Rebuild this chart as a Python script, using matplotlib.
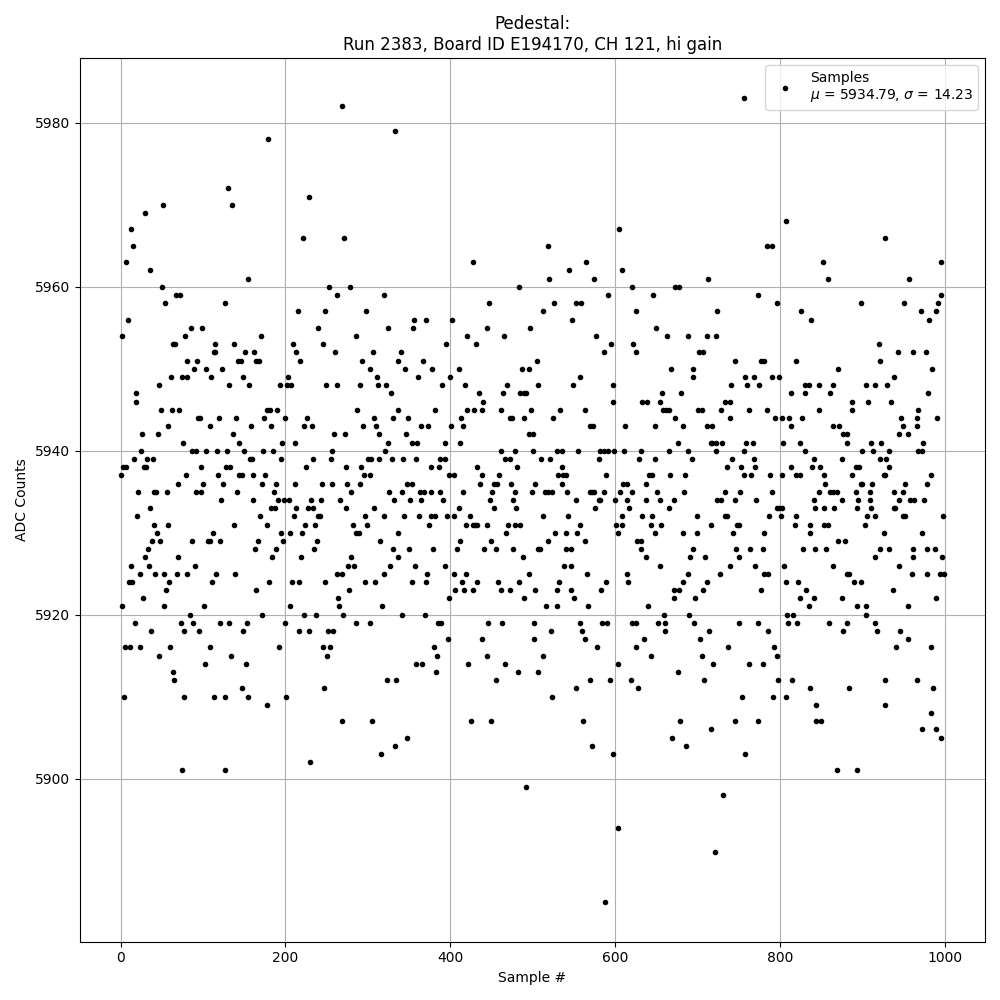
"""Pedestal scan: ADC counts for each sample of one channel."""

import matplotlib
matplotlib.use("Agg")
import matplotlib.pyplot as plt

run_number = 2383
board_id = "E194170"
channel = 121
gain = "hi"
mean_adc = 5934.79
sigma_adc = 14.23

# (sample #, ADC counts), in blocks of ~85 samples
block_a = [(51, 5970), (30, 5969), (13, 5967), (15, 5965), (6, 5963), (36, 5962), (50, 5960),
           (67, 5959), (72, 5959), (54, 5958), (9, 5956), (2, 5954), (78, 5954), (63, 5953),
           (66, 5953), (81, 5951), (47, 5948), (61, 5949), (74, 5949), (81, 5949), (19, 5947),
           (18, 5946), (49, 5945), (62, 5945), (71, 5945), (57, 5943), (26, 5942), (45, 5942),
           (76, 5941), (25, 5940), (16, 5939), (32, 5939), (39, 5939), (3, 5938), (7, 5938),
           (28, 5938), (31, 5938), (0, 5937), (79, 5937), (69, 5936), (21, 5935), (41, 5935),
           (43, 5935), (56, 5935), (35, 5933), (20, 5932), (40, 5931), (58, 5931), (44, 5930),
           (38, 5929), (48, 5929), (33, 5928), (29, 5927), (70, 5927), (12, 5926), (34, 5926),
           (23, 5925), (42, 5925), (53, 5925), (68, 5925), (80, 5925), (10, 5924), (14, 5924),
           (59, 5924), (55, 5923), (27, 5922), (1, 5921), (52, 5921), (17, 5919), (73, 5919),
           (37, 5918), (77, 5918), (5, 5916), (11, 5916), (24, 5916), (60, 5916), (46, 5915),
           (64, 5913), (65, 5912), (4, 5910), (77, 5910), (75, 5901)]
block_b = [(130, 5972), (135, 5970), (155, 5961), (126, 5958), (85, 5955), (99, 5955), (114, 5953),
           (138, 5953), (113, 5952), (115, 5952), (151, 5952), (162, 5952), (93, 5951), (142, 5951),
           (146, 5951), (164, 5951), (89, 5950), (104, 5950), (123, 5950), (110, 5949), (149, 5949),
           (132, 5948), (156, 5948), (94, 5944), (96, 5944), (119, 5944), (140, 5944), (136, 5942),
           (108, 5943), (158, 5943), (144, 5941), (87, 5940), (92, 5940), (104, 5940), (117, 5940),
           (129, 5940), (150, 5940), (157, 5939), (159, 5939), (118, 5937), (144, 5937), (147, 5937),
           (161, 5937), (98, 5938), (128, 5938), (133, 5938), (100, 5936), (124, 5936), (92, 5935),
           (98, 5935), (141, 5935), (122, 5934), (161, 5934), (138, 5931), (112, 5930), (87, 5929),
           (106, 5929), (109, 5929), (121, 5929), (167, 5929), (163, 5928), (90, 5926), (116, 5925),
           (139, 5925), (111, 5924), (164, 5923), (101, 5921), (84, 5920), (88, 5919), (121, 5919),
           (132, 5919), (153, 5919), (95, 5918), (149, 5918), (108, 5916), (134, 5915), (102, 5914),
           (152, 5914), (147, 5911), (113, 5910), (127, 5910), (155, 5910), (126, 5901)]
block_c = [(179, 5978), (229, 5971), (221, 5966), (215, 5957), (248, 5957), (170, 5954), (240, 5955),
           (209, 5953), (246, 5953), (213, 5952), (168, 5951), (218, 5951), (203, 5949), (193, 5948),
           (202, 5948), (207, 5948), (249, 5948), (177, 5945), (181, 5945), (190, 5945), (174, 5944),
           (199, 5944), (226, 5944), (183, 5943), (223, 5943), (232, 5943), (196, 5941), (212, 5941),
           (173, 5940), (185, 5940), (195, 5939), (234, 5939), (225, 5938), (175, 5937), (172, 5936),
           (189, 5936), (212, 5936), (244, 5936), (186, 5935), (191, 5934), (198, 5934), (204, 5934),
           (231, 5934), (243, 5934), (183, 5933), (187, 5933), (213, 5933), (227, 5933), (234, 5933),
           (169, 5932), (210, 5932), (240, 5932), (242, 5932), (178, 5931), (224, 5931), (236, 5931),
           (195, 5930), (206, 5930), (220, 5930), (197, 5929), (238, 5929), (189, 5928), (235, 5928),
           (184, 5927), (219, 5927), (180, 5924), (208, 5924), (217, 5924), (248, 5924), (206, 5921),
           (172, 5920), (223, 5920), (237, 5920), (200, 5919), (217, 5918), (229, 5918), (251, 5918),
           (192, 5916), (246, 5916), (250, 5915), (247, 5911), (201, 5910), (178, 5909), (230, 5902)]
block_d = [(269, 5982), (333, 5979), (271, 5966), (253, 5960), (278, 5960), (263, 5959), (320, 5959),
           (298, 5957), (325, 5955), (285, 5954), (260, 5952), (306, 5952), (293, 5951), (337, 5951),
           (303, 5950), (311, 5949), (263, 5948), (291, 5948), (312, 5948), (322, 5948), (328, 5947),
           (287, 5945), (336, 5945), (308, 5944), (331, 5944), (294, 5943), (310, 5943), (259, 5942),
           (272, 5942), (314, 5942), (325, 5941), (257, 5940), (321, 5940), (255, 5939), (300, 5939),
           (304, 5939), (314, 5939), (329, 5939), (274, 5938), (292, 5938), (295, 5937), (303, 5937),
           (257, 5936), (275, 5936), (291, 5936), (280, 5935), (326, 5935), (266, 5934), (332, 5934),
           (274, 5933), (308, 5933), (297, 5932), (319, 5932), (282, 5931), (299, 5931), (286, 5930),
           (289, 5930), (337, 5930), (315, 5929), (331, 5928), (280, 5927), (336, 5927), (276, 5926),
           (283, 5926), (327, 5926), (297, 5924), (309, 5924), (262, 5925), (269, 5925), (320, 5925),
           (277, 5923), (264, 5922), (265, 5921), (317, 5921), (270, 5920), (286, 5919), (302, 5919),
           (258, 5918), (254, 5916), (323, 5912), (334, 5912), (268, 5907), (305, 5907), (333, 5904),
           (316, 5903)]
block_e = [(356, 5956), (371, 5956), (402, 5956), (355, 5955), (395, 5953), (340, 5952), (420, 5954),
           (367, 5951), (345, 5950), (378, 5950), (410, 5950), (361, 5949), (400, 5949), (390, 5948),
           (418, 5948), (382, 5945), (420, 5945), (349, 5944), (413, 5944), (365, 5943), (373, 5943),
           (401, 5943), (416, 5943), (346, 5942), (354, 5941), (360, 5941), (394, 5941), (412, 5941),
           (343, 5939), (359, 5939), (388, 5939), (394, 5939), (377, 5938), (386, 5938), (399, 5937),
           (405, 5937), (348, 5936), (353, 5936), (342, 5935), (363, 5935), (368, 5935), (377, 5935),
           (388, 5935), (416, 5935), (351, 5934), (365, 5934), (391, 5934), (411, 5933), (344, 5932),
           (362, 5932), (376, 5932), (382, 5932), (396, 5932), (405, 5932), (374, 5931), (419, 5931),
           (412, 5929), (350, 5928), (379, 5928), (408, 5928), (357, 5926), (393, 5926), (372, 5925),
           (404, 5925), (419, 5925), (354, 5924), (371, 5924), (414, 5924), (406, 5923), (417, 5923),
           (399, 5922), (342, 5920), (369, 5920), (385, 5919), (389, 5919), (397, 5917), (380, 5916),
           (384, 5915), (359, 5914), (366, 5914), (422, 5914), (383, 5913), (348, 5905)]
block_f = [(428, 5963), (484, 5960), (447, 5958), (445, 5955), (497, 5955), (465, 5954), (431, 5953),
           (487, 5950), (495, 5950), (505, 5951), (469, 5948), (507, 5948), (435, 5947), (464, 5947),
           (485, 5947), (490, 5947), (492, 5947), (440, 5946), (429, 5945), (439, 5945), (462, 5945),
           (498, 5945), (472, 5944), (475, 5944), (490, 5944), (496, 5942), (501, 5942), (461, 5940),
           (478, 5940), (501, 5940), (467, 5939), (473, 5939), (433, 5938), (481, 5938), (439, 5937),
           (459, 5937), (436, 5936), (453, 5936), (457, 5936), (474, 5936), (503, 5936), (451, 5935),
           (479, 5935), (499, 5935), (448, 5934), (476, 5934), (453, 5933), (480, 5933), (424, 5932),
           (428, 5931), (430, 5931), (433, 5931), (445, 5931), (470, 5931), (479, 5931), (485, 5931),
           (468, 5930), (450, 5929), (441, 5928), (456, 5928), (476, 5928), (507, 5928), (488, 5927),
           (496, 5925), (433, 5924), (458, 5924), (484, 5924), (427, 5923), (462, 5923), (473, 5923),
           (503, 5923), (490, 5922), (446, 5919), (463, 5919), (502, 5919), (438, 5917), (444, 5915),
           (467, 5914), (482, 5913), (506, 5913), (456, 5912), (425, 5907), (450, 5907), (492, 5899)]
block_g = [(518, 5965), (565, 5963), (544, 5962), (520, 5961), (575, 5961), (592, 5959), (526, 5958),
           (552, 5958), (559, 5958), (513, 5957), (548, 5956), (577, 5954), (587, 5952), (558, 5949),
           (549, 5948), (533, 5945), (563, 5945), (525, 5944), (570, 5943), (573, 5943), (529, 5940),
           (536, 5940), (555, 5940), (582, 5940), (586, 5940), (510, 5939), (521, 5939), (581, 5939),
           (536, 5938), (531, 5937), (537, 5937), (540, 5937), (589, 5937), (535, 5936), (515, 5935),
           (518, 5935), (524, 5935), (542, 5935), (570, 5935), (572, 5935), (575, 5935), (587, 5935),
           (553, 5934), (580, 5934), (582, 5934), (576, 5933), (512, 5932), (543, 5932), (558, 5931),
           (527, 5930), (541, 5930), (554, 5930), (519, 5929), (564, 5929), (509, 5928), (541, 5928),
           (547, 5928), (538, 5926), (547, 5926), (566, 5925), (532, 5924), (589, 5924), (530, 5923),
           (546, 5923), (583, 5923), (550, 5922), (516, 5921), (530, 5921), (567, 5921), (557, 5919),
           (584, 5919), (590, 5919), (522, 5918), (560, 5918), (502, 5917), (564, 5917), (578, 5916),
           (513, 5915), (569, 5912), (524, 5910), (552, 5911), (561, 5907), (572, 5904), (588, 5885)]
block_h = [(605, 5967), (609, 5962), (621, 5960), (673, 5960), (646, 5959), (626, 5957), (650, 5955),
           (663, 5954), (595, 5953), (622, 5953), (626, 5952), (668, 5950), (598, 5948), (598, 5946),
           (633, 5946), (639, 5946), (654, 5946), (657, 5947), (658, 5945), (662, 5945), (666, 5945),
           (673, 5944), (612, 5943), (648, 5943), (676, 5941), (592, 5940), (599, 5940), (611, 5940),
           (632, 5940), (665, 5940), (629, 5939), (649, 5939), (641, 5937), (645, 5937), (667, 5937),
           (610, 5936), (615, 5936), (637, 5936), (606, 5935), (621, 5935), (651, 5935), (600, 5934),
           (614, 5934), (638, 5934), (655, 5934), (672, 5934), (617, 5933), (666, 5933), (609, 5932),
           (633, 5932), (645, 5932), (601, 5931), (608, 5931), (644, 5931), (656, 5931), (604, 5930),
           (649, 5930), (627, 5929), (632, 5929), (631, 5928), (638, 5927), (655, 5926), (615, 5925),
           (616, 5924), (671, 5923), (677, 5923), (672, 5922), (640, 5921), (659, 5920), (620, 5919),
           (625, 5919), (652, 5919), (661, 5919), (660, 5918), (635, 5917), (625, 5916), (643, 5915),
           (603, 5914), (676, 5913), (594, 5912), (619, 5912), (628, 5911), (669, 5905), (597, 5903),
           (604, 5894)]
block_i = [(757, 5983), (713, 5961), (678, 5960), (724, 5957), (689, 5954), (712, 5954), (723, 5954),
           (702, 5952), (707, 5952), (746, 5951), (694, 5950), (695, 5949), (758, 5949), (680, 5947),
           (741, 5948), (760, 5948), (733, 5946), (739, 5946), (701, 5945), (706, 5945), (729, 5945),
           (740, 5944), (683, 5943), (711, 5943), (718, 5943), (716, 5941), (718, 5941), (722, 5941),
           (730, 5941), (759, 5941), (689, 5940), (723, 5940), (756, 5940), (693, 5939), (742, 5939),
           (736, 5938), (753, 5938), (685, 5937), (757, 5937), (684, 5935), (734, 5935), (752, 5935),
           (724, 5934), (728, 5934), (746, 5934), (699, 5932), (733, 5932), (736, 5932), (717, 5931),
           (748, 5931), (751, 5931), (682, 5930), (700, 5930), (743, 5930), (695, 5928), (747, 5928),
           (691, 5927), (709, 5927), (751, 5927), (740, 5926), (688, 5925), (727, 5925), (683, 5924),
           (712, 5924), (707, 5923), (697, 5922), (690, 5920), (696, 5919), (751, 5919), (714, 5918),
           (703, 5917), (737, 5916), (705, 5915), (719, 5914), (762, 5914), (708, 5912), (754, 5910),
           (679, 5907), (745, 5907), (716, 5906), (686, 5904), (758, 5903), (731, 5898), (721, 5891)]
block_j = [(808, 5968), (784, 5965), (791, 5965), (773, 5959), (797, 5958), (826, 5957), (838, 5956),
           (777, 5951), (781, 5951), (819, 5951), (768, 5949), (791, 5949), (799, 5949), (775, 5948),
           (830, 5948), (835, 5948), (847, 5948), (814, 5947), (831, 5947), (763, 5945), (784, 5945),
           (847, 5945), (794, 5944), (803, 5944), (811, 5944), (827, 5944), (814, 5943), (767, 5941),
           (804, 5941), (825, 5941), (831, 5940), (769, 5939), (842, 5939), (770, 5938), (813, 5938),
           (839, 5938), (765, 5937), (788, 5937), (803, 5937), (819, 5937), (824, 5937), (790, 5935),
           (847, 5935), (771, 5934), (842, 5934), (797, 5933), (799, 5933), (802, 5933), (843, 5933),
           (787, 5932), (801, 5932), (820, 5932), (818, 5931), (837, 5931), (781, 5930), (836, 5930),
           (764, 5928), (780, 5928), (828, 5928), (843, 5928), (770, 5926), (805, 5926), (781, 5925),
           (786, 5925), (777, 5923), (808, 5924), (822, 5924), (832, 5923), (841, 5922), (825, 5922),
           (835, 5921), (809, 5920), (816, 5920), (774, 5919), (810, 5919), (821, 5919), (786, 5918),
           (793, 5916), (796, 5915), (779, 5914), (798, 5912), (815, 5912), (837, 5911), (792, 5910),
           (807, 5910), (844, 5909), (774, 5907)]
block_k = [(928, 5966), (852, 5963), (858, 5961), (899, 5958), (920, 5953), (922, 5951), (871, 5950),
           (864, 5948), (905, 5948), (916, 5948), (930, 5948), (861, 5947), (888, 5946), (907, 5946),
           (887, 5945), (865, 5943), (872, 5943), (877, 5942), (882, 5942), (881, 5941), (911, 5941),
           (923, 5941), (900, 5940), (913, 5940), (932, 5940), (876, 5939), (922, 5939), (929, 5939),
           (849, 5938), (892, 5938), (896, 5938), (854, 5937), (888, 5937), (926, 5937), (928, 5937),
           (855, 5936), (898, 5936), (900, 5936), (912, 5936), (861, 5935), (865, 5935), (869, 5935),
           (892, 5935), (909, 5935), (876, 5934), (895, 5934), (909, 5934), (853, 5933), (866, 5933),
           (893, 5933), (910, 5933), (906, 5932), (916, 5932), (854, 5931), (858, 5931), (903, 5931),
           (926, 5930), (871, 5929), (879, 5929), (856, 5928), (921, 5928), (932, 5928), (915, 5927),
           (865, 5926), (881, 5925), (884, 5925), (890, 5924), (899, 5924), (875, 5922), (894, 5921),
           (905, 5921), (904, 5920), (860, 5919), (882, 5919), (916, 5919), (877, 5918), (918, 5918),
           (928, 5912), (884, 5911), (928, 5909), (844, 5907), (850, 5907), (869, 5901), (893, 5901)]
block_l = [(996, 5963), (957, 5961), (996, 5959), (992, 5958), (990, 5957), (951, 5958), (971, 5957),
           (981, 5956), (943, 5952), (961, 5952), (977, 5952), (985, 5950), (939, 5949), (980, 5947),
           (935, 5946), (968, 5945), (947, 5944), (967, 5944), (991, 5944), (950, 5943), (966, 5943),
           (944, 5942), (956, 5942), (974, 5941), (968, 5940), (972, 5940), (933, 5938), (984, 5937),
           (979, 5936), (939, 5935), (949, 5935), (944, 5934), (952, 5936), (958, 5934), (963, 5934),
           (975, 5934), (938, 5933), (940, 5933), (949, 5932), (952, 5932), (998, 5932), (973, 5930),
           (962, 5928), (978, 5928), (988, 5928), (962, 5927), (997, 5927), (945, 5926), (960, 5925),
           (979, 5925), (994, 5925), (999, 5925), (937, 5923), (989, 5922), (955, 5921), (946, 5918),
           (956, 5917), (941, 5916), (984, 5916), (967, 5912), (986, 5911), (983, 5908), (972, 5906),
           (990, 5906), (995, 5905)]

blocks = [block_a, block_b, block_c, block_d, block_e, block_f,
          block_g, block_h, block_i, block_j, block_k, block_l]
samples = [s for blk in blocks for s, _ in blk]
adc = [v for blk in blocks for _, v in blk]

fig, ax = plt.subplots(figsize=(10, 10), dpi=100)
ax.plot(samples, adc, "k.",
        label=f"Samples\n$\\mu$ = {mean_adc:.2f}, $\\sigma$ = {sigma_adc:.2f}")
ax.set_title(f"Pedestal:\nRun {run_number}, Board ID {board_id}, CH {channel}, {gain} gain")
ax.set_xlabel("Sample #")
ax.set_ylabel("ADC Counts")
ax.grid(True)
ax.legend(loc="upper right")
fig.tight_layout()
fig.savefig("out.png", dpi=100)
